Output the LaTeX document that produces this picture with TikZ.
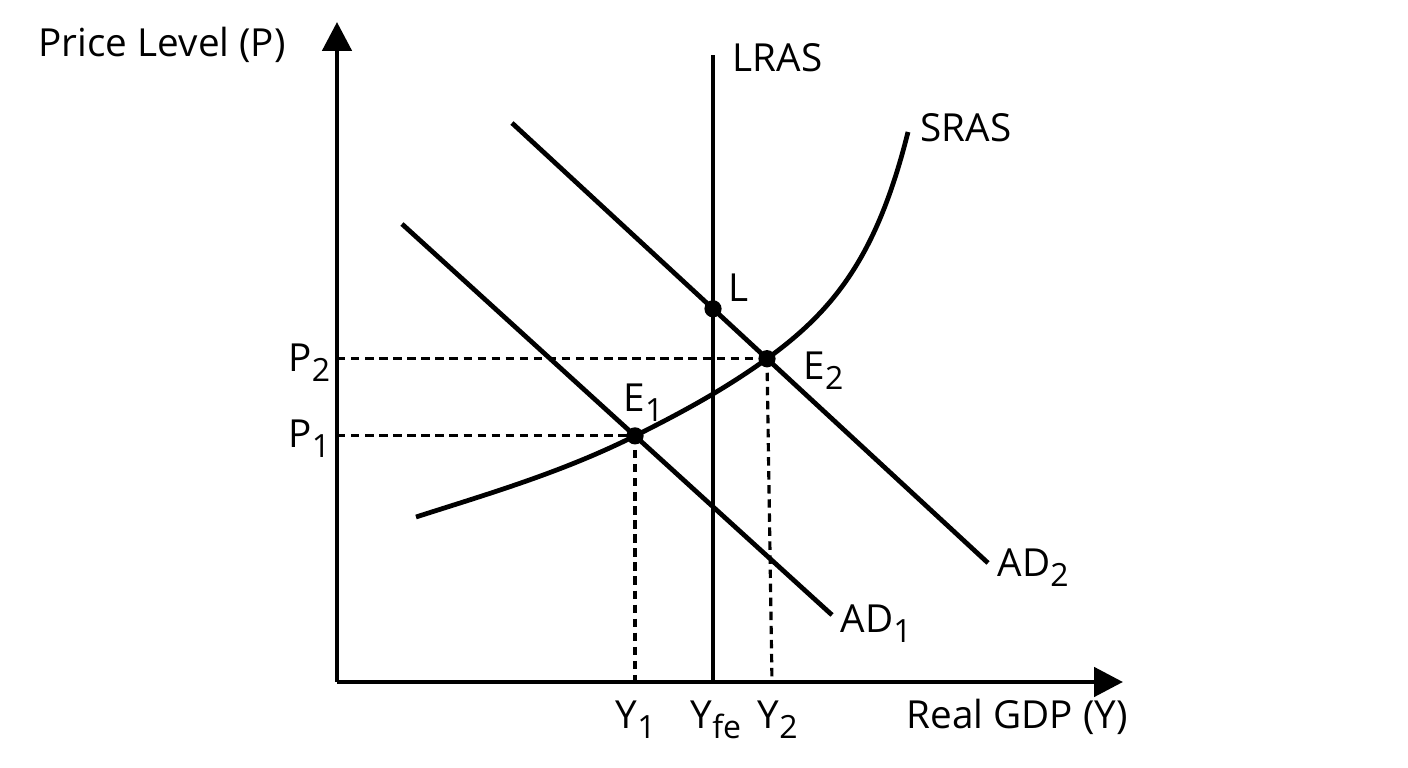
\documentclass[tikz,border=0pt]{standalone}
\usepackage{fontspec}
\setmainfont{Open Sans}
\usetikzlibrary{arrows.meta,calc}
\newcommand\lsub[1]{\raisebox{-0.24em}{\fontsize{9.1}{10}\selectfont #1}}
\begin{document}
\begin{tikzpicture}[
  axisline/.style={line width=1.4pt,-{Triangle[length=8.2pt,width=8.2pt]}},
  curveline/.style={line width=1.35pt},
  guide/.style={line width=0.9pt,dash pattern=on 2.4pt off 1.6pt},
  dot/.style={circle,fill=black,inner sep=0pt,minimum size=4.9pt},
  lbl/.style={anchor=base west,inner sep=0pt,font=\fontsize{11}{13}\selectfont}
]
\useasboundingbox (0,0) rectangle (14.08,7.68);
% coordinates
\coordinate (O) at (3.37,0.86);
\coordinate (ytip) at (3.37,7.46);
\coordinate (xtip) at (11.23,0.86);
\coordinate (lrasT) at (7.13,7.13);
\coordinate (lrasB) at (7.13,0.86);
\coordinate (ad2s) at (5.12,6.45);
\coordinate (ad2e) at (9.88,2.05);
\coordinate (ad1s) at (4.02,5.44);
\coordinate (ad1e) at (8.32,1.53);
\coordinate (E2) at ($(ad2s)!0.5357!(ad2e)$);
\coordinate (L) at ($(ad2s)!0.4223!(ad2e)$);
\coordinate (E1) at ($(ad1s)!0.5419!(ad1e)$);
\coordinate (P2) at (O |- E2);
\coordinate (P1) at (O |- E1);
\coordinate (Y1) at (E1 |- O);
\coordinate (Y2) at (7.72,0.86);
\coordinate (srasS) at (4.16,2.51);
\coordinate (srasT) at (9.08,6.36);
% guides
\draw[guide] (P2) -- (E2);
\draw[guide] (P1) -- (E1);
\draw[guide] (E1) -- (Y1);
\draw[guide] (E2) -- (Y2);
% axes
\draw[axisline] (O) -- (ytip);
\draw[axisline] (O) -- (xtip);
% curves
\draw[curveline] (lrasB) -- (lrasT);
\draw[curveline] (ad2s) -- (ad2e);
\draw[curveline] (ad1s) -- (ad1e);
\draw[curveline] (srasS) .. controls +(0.73,0.234) and +(-0.73,-0.365) .. (E1)
  .. controls +(0.44,0.22) and +(-0.44,-0.317) .. (E2)
  .. controls +(0.7,0.504) and +(-0.3,-1.2) .. (srasT);
% dots
\node[dot] (dE1) at (E1) {};
\node[dot] (dE2) at (E2) {};
\node[dot] (dL) at (L) {};
% labels
\node[lbl] (tP) at (0.38,7.11) {Price Level (P)};
\node[lbl] (tLRAS) at (7.32,6.96) {LRAS};
\node[lbl] (tSRAS) at (9.20,6.26) {SRAS};
\node[lbl] (tL) at (7.28,4.66) {L};
\node[lbl] (tE1) at (6.23,3.56) {E\lsub{1}};
\node[lbl] (tE2) at (8.03,3.88) {E\lsub{2}};
\node[lbl] (tP2) at (2.88,3.96) {P\lsub{2}};
\node[lbl] (tP1) at (2.88,3.20) {P\lsub{1}};
\node[lbl] (tAD2) at (9.97,1.91) {AD\lsub{2}};
\node[lbl] (tAD1) at (8.40,1.35) {AD\lsub{1}};
\node[lbl] (tY1) at (6.15,0.39) {Y\lsub{1}};
\node[lbl] (tYfe) at (6.90,0.39) {Y\lsub{fe}};
\node[lbl] (tY2) at (7.57,0.39) {Y\lsub{2}};
\node[lbl] (tReal) at (9.06,0.39) {Real GDP (Y)};
\end{tikzpicture}
\end{document}
